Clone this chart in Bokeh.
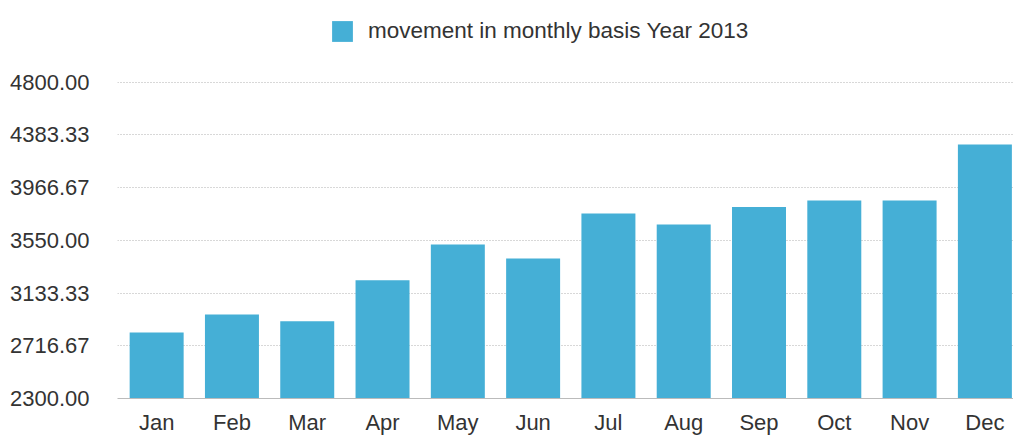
from bokeh.plotting import figure
from bokeh.models import (ColumnDataSource, Range1d, FixedTicker, PrintfTickFormatter,
                          Legend, LegendItem)
from bokeh.embed import file_html
from bokeh.resources import INLINE

months = ["Jan", "Feb", "Mar", "Apr", "May", "Jun", "Jul", "Aug", "Sep", "Oct", "Nov", "Dec"]
values = [2822, 2964, 2911, 3234, 3516, 3406, 3761, 3674, 3813, 3865, 3865, 4307]
y_ticks = [2300.00, 2716.67, 3133.33, 3550.00, 3966.67, 4383.33, 4800.00]
series_name = "movement in monthly basis Year 2013"

BAR = "#45afd6"
FONT = "Liberation Sans"

xs = list(range(len(months)))
src = ColumnDataSource(dict(x=xs, top=values, month=months))

p = figure(width=1013, height=437, output_backend="svg", toolbar_location=None,
           x_range=Range1d(-0.52, 11.38), y_range=Range1d(2300, 5444),
           min_border_left=117, min_border_right=0, min_border_top=0,
           min_border_bottom=36)
p.outline_line_color = None
p.background_fill_color = "white"
p.border_fill_color = "white"

r = p.vbar(x="x", top="top", bottom=2300, width=0.717, source=src,
           fill_color=BAR, line_color=None)

# x axis
p.xaxis.ticker = FixedTicker(ticks=xs)
p.xaxis.major_label_overrides = {i: m for i, m in zip(xs, months)}
p.xaxis.major_tick_line_color = None
p.xaxis.minor_tick_line_color = None
p.xaxis.axis_line_color = "#bbbbbb"
p.xaxis.major_label_text_font = FONT
p.xaxis.major_label_text_font_size = "22px"
p.xaxis.major_label_text_color = "#333333"
p.xaxis.major_label_standoff = 5

# y axis
p.yaxis.ticker = FixedTicker(ticks=y_ticks)
p.yaxis.formatter = PrintfTickFormatter(format="%.2f")
p.yaxis.axis_line_color = None
p.yaxis.major_tick_line_color = None
p.yaxis.minor_tick_line_color = None
p.yaxis.major_label_text_font = FONT
p.yaxis.major_label_text_font_size = "22px"
p.yaxis.major_label_text_color = "#333333"
p.yaxis.major_label_standoff = 22

p.xgrid.grid_line_color = None
p.ygrid.grid_line_color = "#b0b0b0"
p.ygrid.grid_line_dash = "1 2"
p.ygrid.grid_line_width = 1

legend = Legend(items=[LegendItem(label=series_name, renderers=[r])],
                location=(212, 354), orientation="horizontal",
                glyph_width=26, glyph_height=26, label_height=26,
                label_standoff=13, padding=0, margin=0, spacing=0,
                border_line_color=None, background_fill_alpha=0,
                label_text_font=FONT, label_text_font_size="22.5px",
                label_text_color="#333333")
p.add_layout(legend, "center")

open("out.html", "w").write(file_html(p, INLINE))
